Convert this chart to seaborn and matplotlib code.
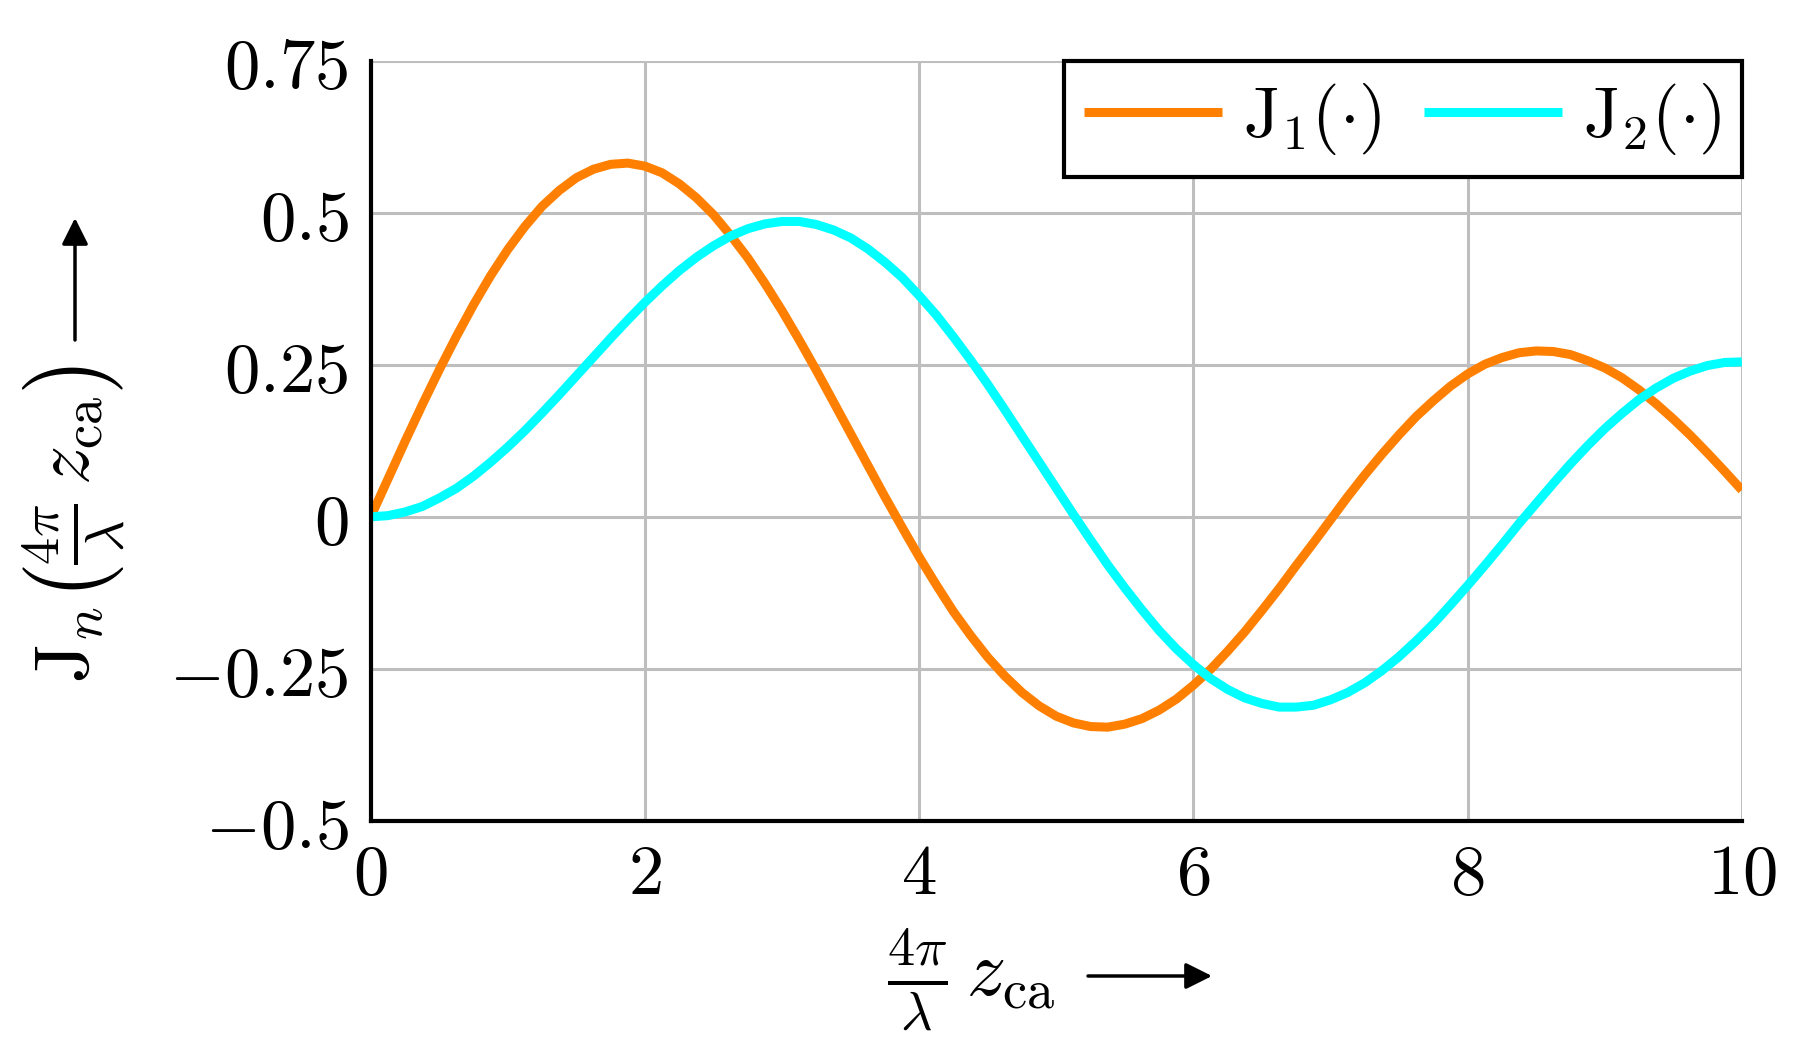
import matplotlib
matplotlib.use("Agg")
from matplotlib import pyplot as plt
import pandas as pd
import seaborn as sns

# argument 4*pi/lambda * z_ca, read at steps of 0.125
z = [0.0, 0.125, 0.25, 0.375, 0.5, 0.625, 0.75, 0.875,
     1.0, 1.125, 1.25, 1.375, 1.5, 1.625, 1.75, 1.875,
     2.0, 2.125, 2.25, 2.375, 2.5, 2.625, 2.75, 2.875,
     3.0, 3.125, 3.25, 3.375, 3.5, 3.625, 3.75, 3.875,
     4.0, 4.125, 4.25, 4.375, 4.5, 4.625, 4.75, 4.875,
     5.0, 5.125, 5.25, 5.375, 5.5, 5.625, 5.75, 5.875,
     6.0, 6.125, 6.25, 6.375, 6.5, 6.625, 6.75, 6.875,
     7.0, 7.125, 7.25, 7.375, 7.5, 7.625, 7.75, 7.875,
     8.0, 8.125, 8.25, 8.375, 8.5, 8.625, 8.75, 8.875,
     9.0, 9.125, 9.25, 9.375, 9.5, 9.625, 9.75, 9.875, 10.0]

j1 = [0.000, 0.062, 0.124, 0.184, 0.242, 0.297, 0.349, 0.397,
      0.440, 0.478, 0.511, 0.537, 0.558, 0.572, 0.580, 0.582,
      0.577, 0.566, 0.548, 0.525, 0.497, 0.463, 0.426, 0.384,
      0.339, 0.291, 0.241, 0.189, 0.137, 0.085, 0.033, -0.017,
      -0.066, -0.112, -0.156, -0.195, -0.231, -0.262, -0.289, -0.311,
      -0.328, -0.339, -0.345, -0.346, -0.341, -0.332, -0.318, -0.300,
      -0.277, -0.251, -0.221, -0.189, -0.154, -0.118, -0.080, -0.043,
      -0.005, 0.033, 0.069, 0.103, 0.135, 0.165, 0.191, 0.215,
      0.235, 0.251, 0.262, 0.270, 0.273, 0.272, 0.267, 0.257,
      0.245, 0.229, 0.209, 0.186, 0.161, 0.134, 0.105, 0.075, 0.044]

j2 = [0.000, 0.002, 0.008, 0.017, 0.031, 0.047, 0.067, 0.090,
      0.115, 0.142, 0.171, 0.201, 0.232, 0.263, 0.294, 0.324,
      0.353, 0.380, 0.405, 0.427, 0.446, 0.462, 0.474, 0.482,
      0.486, 0.486, 0.481, 0.472, 0.459, 0.441, 0.419, 0.394,
      0.364, 0.332, 0.296, 0.258, 0.218, 0.176, 0.133, 0.090,
      0.047, 0.004, -0.038, -0.079, -0.117, -0.153, -0.187, -0.217,
      -0.243, -0.266, -0.284, -0.298, -0.307, -0.313, -0.313, -0.310,
      -0.301, -0.289, -0.273, -0.253, -0.230, -0.204, -0.176, -0.145,
      -0.113, -0.080, -0.046, -0.011, 0.022, 0.055, 0.087, 0.117,
      0.145, 0.170, 0.193, 0.212, 0.228, 0.240, 0.249, 0.254, 0.255]

series_names = [r"$\mathrm{J}_1(\cdot)$", r"$\mathrm{J}_2(\cdot)$"]
series_colors = ["#ff8000", "#00ffff"]

x_ticks = [0, 2, 4, 6, 8, 10]
y_ticks = [-0.5, -0.25, 0, 0.25, 0.5, 0.75]
y_tick_labels = [r"$-0.5$", r"$-0.25$", r"$0$", r"$0.25$", r"$0.5$", r"$0.75$"]

df = pd.DataFrame({
    "z": z + z,
    "J": j1 + j2,
    "name": [series_names[0]] * len(z) + [series_names[1]] * len(z),
})

sns.set_theme(style="white")
plt.rcParams["mathtext.fontset"] = "cm"
plt.rcParams["font.family"] = ["DejaVu Serif"]
plt.rcParams["text.color"] = "black"

FS = 51        # tick labels and legend
FS_LABEL = 56  # axis labels

fig = plt.figure(figsize=(18.05, 10.57), dpi=100)
ax = fig.add_axes([0.2054, 0.2235, 0.965 - 0.2054, 0.9423 - 0.2235])

sns.lineplot(data=df, x="z", y="J", hue="name", palette=series_colors,
             linewidth=6.5, ax=ax, zorder=3)
for line in ax.get_lines():
    line.set_solid_joinstyle("round")
    line.set_solid_capstyle("butt")

ax.set_xlim(0, 10)
ax.set_ylim(-0.5, 0.75)
ax.set_xticks(x_ticks)
ax.set_xticklabels([r"$%d$" % t for t in x_ticks], fontsize=FS)
ax.set_yticks(y_ticks)
ax.set_yticklabels(y_tick_labels, fontsize=FS)
ax.tick_params(axis="both", direction="in", length=25, width=2, color="#808080",
               labelcolor="black")
ax.tick_params(axis="x", pad=14)
ax.tick_params(axis="y", pad=16)

ax.grid(True, color="#bebebe", linewidth=2.2)
ax.set_axisbelow(True)
for side in ["top", "right"]:
    ax.spines[side].set_visible(False)
for side in ["left", "bottom"]:
    ax.spines[side].set_color("black")
    ax.spines[side].set_linewidth(3)
    ax.spines[side].set_zorder(5)

ax.set_xlabel("")
ax.set_ylabel("")

leg = ax.legend(loc="upper right", ncol=2, fontsize=FS, frameon=True, fancybox=False,
                edgecolor="black", framealpha=1, handlelength=1.95, handletextpad=0.3,
                columnspacing=0.6, borderpad=0.28, borderaxespad=0.0)
leg.get_frame().set_linewidth(3)
leg.set_zorder(6)
for h in leg.get_lines():
    h.set_linewidth(6.5)
for t in leg.get_texts():
    t.set_color("black")

# axis labels with arrows
fig.text(971 / 1805, 1 - 980 / 1057,
         r"$\frac{4\pi}{\lambda}\,z_{\mathrm{ca}}$", fontsize=FS_LABEL,
         ha="center", va="center", color="black")
fig.text(75 / 1805, 1 - 524 / 1057,
         r"$\mathrm{J}_n\left(\frac{4\pi}{\lambda}\,z_{\mathrm{ca}}\right)$", fontsize=FS_LABEL,
         ha="center", va="center", rotation=90, color="black")

arrow = dict(arrowstyle="-|>", color="black", lw=2.5, mutation_scale=40,
             shrinkA=0, shrinkB=0)
ax.annotate("", xy=(1212 / 1805, 1 - 976 / 1057), xytext=(1088 / 1805, 1 - 976 / 1057),
            xycoords="figure fraction", textcoords="figure fraction",
            arrowprops=arrow, annotation_clip=False)
ax.annotate("", xy=(75 / 1805, 1 - 218 / 1057), xytext=(75 / 1805, 1 - 340 / 1057),
            xycoords="figure fraction", textcoords="figure fraction",
            arrowprops=arrow, annotation_clip=False)

fig.savefig("out.png", dpi=100)
plt.close(fig)
